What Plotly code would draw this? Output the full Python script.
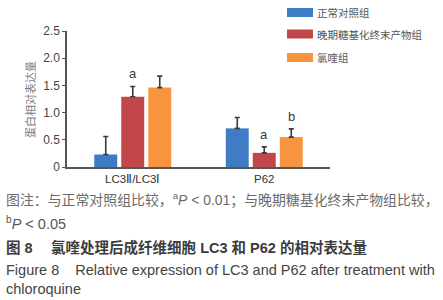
import plotly.graph_objects as go

categories = ["LC3Ⅱ/LC3Ⅰ", "P62"]
series_names = ["正常对照组", "晚期糖基化终末产物组", "氯喹组"]
colors = ["#3f7cc4", "#c2474a", "#f7953f"]
values = [[0.23, 0.71], [1.29, 0.26], [1.46, 0.55]]
errors = [[0.33, 0.20], [0.19, 0.11], [0.21, 0.15]]
marks = [["", ""], ["a", "a"], ["", "b"]]
y_ticks = [0, 0.5, 1.0, 1.5, 2.0, 2.5]
y_tick_text = ["0", "0.5", "1.0", "1.5", "2.0", "2.5"]

W, H = 443, 300
L, R, T, B = 67, 113, 31, 133
PH = H - T - B

def py(p):
    return (H - B - p) / PH

def px(p):
    return (p - L) / (W - L - R)

fig = go.Figure()
for i, name in enumerate(series_names):
    fig.add_trace(go.Bar(
        x=categories, y=values[i], name=name,
        marker=dict(color=colors[i], line=dict(width=0)),
        error_y=dict(type="data", symmetric=False, array=errors[i],
                     arrayminus=[0] * len(categories),
                     color="#3a3a3a", thickness=1.6, width=2.5),
        showlegend=False, hoverinfo="skip",
    ))

# significance letters
slot = 27.0
for i in range(len(series_names)):
    for j, c in enumerate(categories):
        if marks[i][j]:
            fig.add_annotation(x=c, y=values[i][j] + errors[i][j], yanchor="bottom",
                               text=marks[i][j], showarrow=False, xshift=(i - 1) * slot,
                               yshift=3, font=dict(family="Liberation Sans", size=13, color="#3a3a3a"))

# legend
leg_y = [12.5, 34, 57.5]
for i, name in enumerate(series_names):
    fig.add_shape(type="rect", xref="paper", yref="paper",
                  x0=px(287), x1=px(313), y0=py(leg_y[i] - 4.5), y1=py(leg_y[i] + 4.5),
                  fillcolor=colors[i], line=dict(width=0))
    fig.add_annotation(xref="paper", yref="paper", x=px(315), y=py(leg_y[i]),
                       xanchor="left", yanchor="middle", text=name, showarrow=False,
                       font=dict(family="Noto Sans CJK SC", size=10.5, color="#555555"))

# y-axis title
fig.add_annotation(xref="paper", yref="paper", x=px(30), y=py(100), text="蛋白相对表达量",
                   textangle=-90, showarrow=False, xanchor="center", yanchor="middle",
                   font=dict(family="Noto Sans CJK SC", size=11, color="#808080"))

# captions
cap_font = "Noto Sans CJK SC"
captions = [
    (199, "图注：与正常对照组比较，<sup>a</sup><span style='font-family:Liberation Sans'><i>P</i> &lt; 0.01</span>；与晚期糖基化终末产物组比较，", "#6a6a6a", 13.9),
    (223, "<sup>b</sup><span style='font-family:Liberation Sans'><i>P</i> &lt; 0.05</span>", "#555555", 14.5),
    (247, "<b>图 8　 氯喹处理后成纤维细胞 LC3 和 P62 的相对表达量</b>", "#3c3c3c", 14.5),
    (270, "Figure 8    Relative expression of LC3 and P62 after treatment with", "#444444", 14.5),
    (289, "chloroquine", "#444444", 14.5),
]
for yy, txt, col, sz in captions:
    fig.add_annotation(xref="paper", yref="paper", x=px(4), y=py(yy), xanchor="left",
                       yanchor="middle", text=txt, showarrow=False, align="left",
                       font=dict(family="Liberation Sans, " + cap_font, size=sz, color=col))

fig.update_layout(
    width=W, height=H, margin=dict(l=L, r=R, t=T, b=B, autoexpand=False),
    paper_bgcolor="white", plot_bgcolor="white",
    barmode="group", bargap=0.384, bargroupgap=0.15,
    font=dict(family="Liberation Sans", color="#444444"),
    xaxis=dict(showline=True, linecolor="#555555", linewidth=1.5, ticks="",
               tickfont=dict(size=11.5, color="#333333"), range=[-0.5, 1.5], showgrid=False),
    yaxis=dict(showline=True, linecolor="#555555", linewidth=1.5, ticks="outside",
               ticklen=3, tickcolor="#555555", tickvals=y_ticks, ticktext=y_tick_text,
               range=[0, 2.5], showgrid=False, zeroline=False,
               tickfont=dict(size=12, color="#444444")),
)
fig.write_html("out.html", post_script="document.body.style.margin='0';",
               config={"displayModeBar": False})
